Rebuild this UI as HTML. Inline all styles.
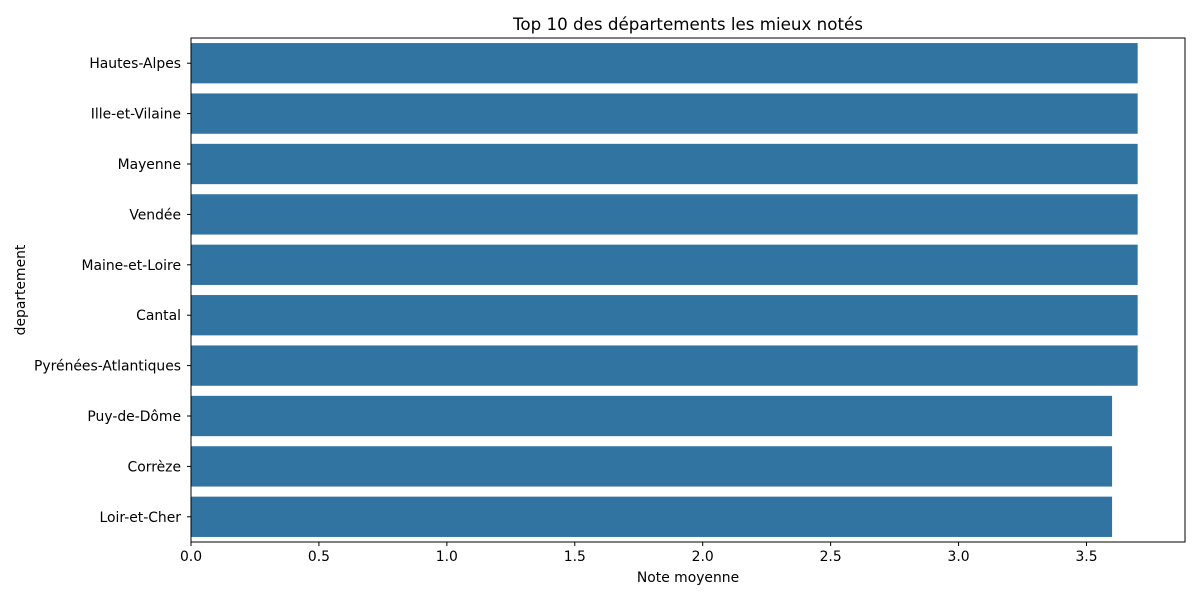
<!DOCTYPE html>
<html><head><meta charset="utf-8"><style>
body{margin:0;background:#fff;}
svg text{font-family:"DejaVu Sans","Liberation Sans",sans-serif;fill:#000;}
</style></head><body>
<svg id="chart" width="1200" height="600" xmlns="http://www.w3.org/2000/svg">
<text x="688" y="30" font-size="16.7" text-anchor="middle">Top 10 des départements les mieux notés</text>
<g id="bars"></g><g id="axes"></g>
<text x="688" y="582" font-size="13.9" text-anchor="middle">Note moyenne</text>
<text transform="translate(25,290) rotate(-90)" font-size="13.9" text-anchor="middle">departement</text>
</svg>
<script>
const categories=["Hautes-Alpes","Ille-et-Vilaine","Mayenne","Vendée","Maine-et-Loire","Cantal","Pyrénées-Atlantiques","Puy-de-Dôme","Corrèze","Loir-et-Cher"];
const values=[3.7,3.7,3.7,3.7,3.7,3.7,3.7,3.6,3.6,3.6];
const xTicks=[0,0.5,1.0,1.5,2.0,2.5,3.0,3.5];
const xTickLabels=["0.0","0.5","1.0","1.5","2.0","2.5","3.0","3.5"];
const L=191,R=1185,T=38,B=542;
const xMax=Math.max(...values)*1.05;
const x=v=>L+(v/xMax)*(R-L);
const band=(B-T)/categories.length;
const y=i=>T+i*band;
const NS="http://www.w3.org/2000/svg";
const mk=(t,a,p)=>{const e=document.createElementNS(NS,t);for(const k in a)e.setAttribute(k,a[k]);p.appendChild(e);return e;};
const bars=document.getElementById('bars'),axes=document.getElementById('axes');
categories.forEach((c,i)=>{
 const r=mk('rect',{x:L,y:y(i)+band*0.1,width:x(values[i])-L,height:band*0.8,fill:'#3274a1'},bars);
 
 
 const tk=mk('line',{x1:L-4,x2:L,y1:y(i)+band/2,y2:y(i)+band/2,stroke:'#000'},axes);
 
 
 const t=mk('text',{x:L-10,y:y(i)+band/2+5,'font-size':13.9,'text-anchor':'end'},axes);
 t.textContent=c;
 
 
});
xTicks.forEach((v,i)=>{
 const tk=mk('line',{x1:x(v),x2:x(v),y1:B,y2:B+4,stroke:'#000'},axes);
 
 
 const t=mk('text',{x:x(v),y:B+19,'font-size':13.9,'text-anchor':'middle'},axes);
 t.textContent=xTickLabels[i];
 
 
});
const frame=mk('rect',{x:L,y:T,width:R-L,height:B-T,fill:'none',stroke:'#000','stroke-width':1},axes);


</script>
</body></html>
